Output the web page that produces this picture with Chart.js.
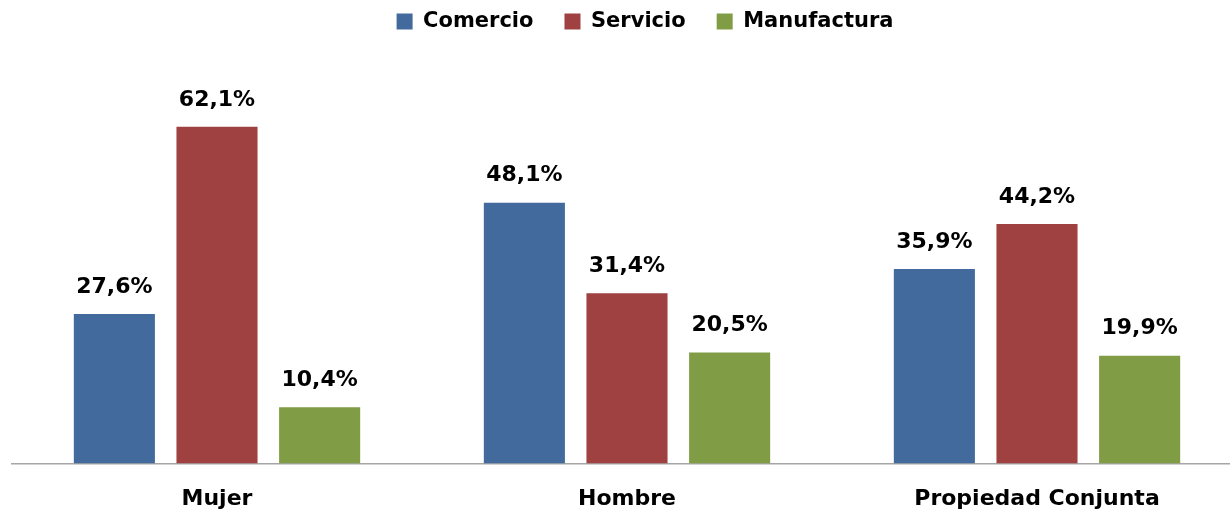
<!DOCTYPE html>
<html>
<head>
<meta charset="utf-8">
<script src="https://cdn.jsdelivr.net/npm/chart.js@4"></script>
<style>
  html, body { margin: 0; padding: 0; background: #fff; overflow: hidden; }
  #wrap { width: 1242px; height: 510px; }
</style>
</head>
<body>
<div id="wrap"><canvas id="graph"></canvas></div>
<script>
var categories = ['Mujer', 'Hombre', 'Propiedad Conjunta'];
var comercio = [27.6, 48.1, 35.9];
var servicio = [62.1, 31.4, 44.2];
var manufactura = [10.4, 20.5, 19.9];

var FONT = '"DejaVu Sans", sans-serif';

// value labels above each bar, "62,1%" style
var barLabels = {
    id: 'barLabels',
    afterDatasetsDraw: function (chart) {
        var ctx = chart.ctx;
        ctx.save();
        ctx.font = 'bold 22px ' + FONT;
        ctx.fillStyle = '#000';
        ctx.textAlign = 'center';
        ctx.textBaseline = 'middle';
        chart.data.datasets.forEach(function (ds, i) {
            chart.getDatasetMeta(i).data.forEach(function (bar, j) {
                var txt = ds.data[j].toFixed(1).replace('.', ',') + '%';
                ctx.fillText(txt, bar.x, bar.y - 27);
            });
        });
        ctx.restore();
    }
};

// make room under the legend, and nudge the legend up and sideways
var legendTweak = {
    id: 'legendTweak',
    beforeInit: function (chart) {
        var fit = chart.legend.fit;
        chart.legend.fit = function () {
            fit.call(this);
            this.height += 22;
        };
    },
    afterLayout: function (chart) {
        chart.legend.left += 18;
        chart.legend.right += 18;
        chart.legend.top -= 20;
        chart.legend.bottom -= 20;
    }
};

var ctx = document.getElementById('graph').getContext('2d');
var graph = new Chart(ctx, {
    type: 'bar',
    data: {
        labels: categories,
        datasets: [
            { label: 'Comercio', data: comercio, backgroundColor: '#426A9C' },
            { label: 'Servicio', data: servicio, backgroundColor: '#9E4140' },
            { label: 'Manufactura', data: manufactura, backgroundColor: '#809D46' }
        ]
    },
    options: {
        responsive: true,
        maintainAspectRatio: false,
        animation: false,
        layout: { padding: { left: 12, right: 0, top: 0, bottom: 0 } },
        datasets: {
            bar: { categoryPercentage: 0.751, barPercentage: 0.79 }
        },
        plugins: {
            legend: {
                position: 'top',
                labels: {
                    boxWidth: 16,
                    boxHeight: 16,
                    padding: 31,
                    color: '#000',
                    font: { family: FONT, size: 21, weight: 'bold' }
                }
            },
            tooltip: { enabled: false }
        },
        scales: {
            x: {
                grid: { display: false },
                border: { display: true, color: '#A6A6A6', width: 1.5 },
                ticks: {
                    color: '#000',
                    padding: 14,
                    font: { family: FONT, size: 22, weight: 'bold' }
                },
                afterFit: function (scale) {
                    scale.height -= 16;
                }
            },
            y: {
                display: false,
                min: 0,
                max: 70
            }
        }
    },
    plugins: [barLabels, legendTweak]
});
</script>
</body>
</html>
